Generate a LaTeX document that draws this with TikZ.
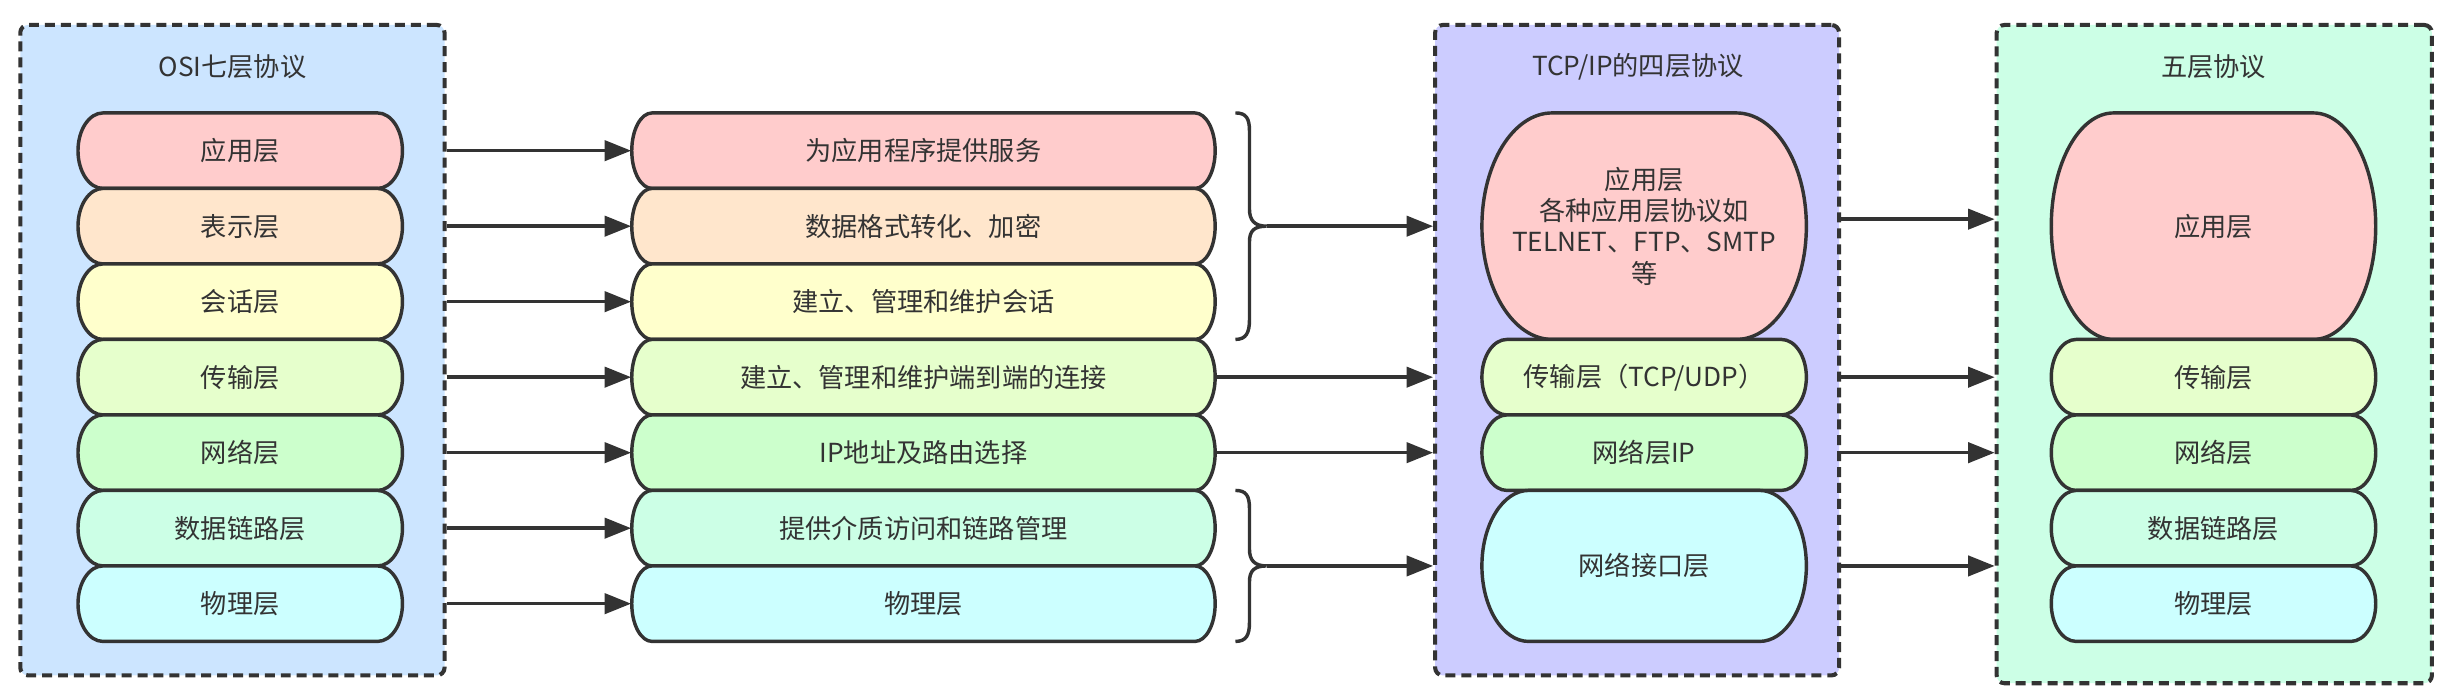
\documentclass[tikz,border=0pt]{standalone}
\usepackage{fontspec}
\setmainfont{Noto Sans CJK SC}
\usetikzlibrary{arrows.meta,calc}
\definecolor{ln}{HTML}{333333}
\definecolor{cApp}{HTML}{FFCCCC}
\definecolor{cPre}{HTML}{FFE6CC}
\definecolor{cSes}{HTML}{FFFFCC}
\definecolor{cTra}{HTML}{E6FFCC}
\definecolor{cNet}{HTML}{CCFFCC}
\definecolor{cDl}{HTML}{CCFFE6}
\definecolor{cPhy}{HTML}{CCFFFF}
\definecolor{cOsi}{HTML}{CCE5FF}
\definecolor{cTcp}{HTML}{CCCCFF}
\definecolor{cFive}{HTML}{CCFFE6}
\tikzset{
  boxline/.style={draw=ln, line width=1.1pt},
  lbl/.style={inner sep=0pt, text=ln, font=\fontsize{8.4pt}{10pt}\selectfont, align=center},
  cont/.style={draw=ln, line width=1.3pt, dash pattern=on 3.2pt off 1.9pt, rounded corners=2.5pt, inner sep=0pt},
  arr/.style={draw=ln, line width=1.1pt, -{Triangle[length=8.5pt,width=6.5pt]}},
  bracep/.style={draw=ln, line width=1.1pt},
  ttl/.style={text=ln, font=\fontsize{8.4pt}{10pt}\selectfont, inner sep=0pt}
}
\newcommand{\lyr}[9]{%
  \filldraw[boxline, fill=#8] (#2+#6,#3) -- (#4-#6,#3)
    arc[start angle=-90,end angle=0,x radius=#6,y radius=#7]
    -- (#4,#5-#7)
    arc[start angle=0,end angle=90,x radius=#6,y radius=#7]
    -- (#2+#6,#5)
    arc[start angle=90,end angle=180,x radius=#6,y radius=#7]
    -- (#2,#3+#7)
    arc[start angle=180,end angle=270,x radius=#6,y radius=#7] -- cycle;
  \node[lbl, minimum width={(#4-#2)*0.5pt}, minimum height={(#5-#3)*0.5pt}] (#1) at ({(#2+#4)/2},{(#3+#5)/2}) {#9};
}
\begin{document}
\begin{tikzpicture}[x=0.5pt,y=-0.5pt]
\useasboundingbox (0,0) rectangle (1568.7,443);
% containers
\node[cont, fill=cOsi, minimum width=136pt, minimum height=208.5pt] (osi) at (149,224.5) {};
\node[cont, fill=cTcp, minimum width=129.5pt, minimum height=208.5pt] (tcp) at (1049.5,224.5) {};
\node[cont, fill=cFive, minimum width=139.5pt, minimum height=211pt] (five) at (1419.5,227) {};
\node[ttl] (osit) at (149,43) {OSI七层协议};
\node[ttl] (tcpt) at (1050,43) {TCP/IP的四层协议};
\node[ttl] (fivet) at (1419,43) {五层协议};
% OSI column
\lyr{o1}{50}{72.4}{258}{120.8}{16}{24.2}{cApp}{应用层}
\lyr{o2}{50}{120.8}{258}{169.2}{16}{24.2}{cPre}{表示层}
\lyr{o3}{50}{169.2}{258}{217.6}{16}{24.2}{cSes}{会话层}
\lyr{o4}{50}{217.6}{258}{266}{16}{24.2}{cTra}{传输层}
\lyr{o5}{50}{266}{258}{314.4}{16}{24.2}{cNet}{网络层}
\lyr{o6}{50}{314.4}{258}{362.8}{16}{24.2}{cDl}{数据链路层}
\lyr{o7}{50}{362.8}{258}{411.2}{16}{24.2}{cPhy}{物理层}
% middle column
\lyr{m1}{405}{72.4}{779}{120.8}{13}{24.2}{cApp}{为应用程序提供服务}
\lyr{m2}{405}{120.8}{779}{169.2}{13}{24.2}{cPre}{数据格式转化、加密}
\lyr{m3}{405}{169.2}{779}{217.6}{13}{24.2}{cSes}{建立、管理和维护会话}
\lyr{m4}{405}{217.6}{779}{266}{13}{24.2}{cTra}{建立、管理和维护端到端的连接}
\lyr{m5}{405}{266}{779}{314.4}{13}{24.2}{cNet}{IP地址及路由选择}
\lyr{m6}{405}{314.4}{779}{362.8}{13}{24.2}{cDl}{提供介质访问和链路管理}
\lyr{m7}{405}{362.8}{779}{411.2}{13}{24.2}{cPhy}{物理层}
% TCP/IP column
\lyr{t1}{950}{72.4}{1158}{217.6}{45}{72.6}{cApp}{应用层\\各种应用层协议如\\TELNET、FTP、SMTP\\等}
\lyr{t2}{950}{217.6}{1158}{266}{16}{24.2}{cTra}{传输层（TCP/UDP）}
\lyr{t3}{950}{266}{1158}{314.4}{16}{24.2}{cNet}{网络层IP}
\lyr{t4}{950}{314.4}{1158}{411.2}{30}{48.4}{cPhy}{网络接口层}
% five-layer column
\lyr{f1}{1315}{72.4}{1523}{217.6}{40}{72.6}{cApp}{应用层}
\lyr{f2}{1315}{217.6}{1523}{266}{16}{24.2}{cTra}{传输层}
\lyr{f3}{1315}{266}{1523}{314.4}{16}{24.2}{cNet}{网络层}
\lyr{f4}{1315}{314.4}{1523}{362.8}{16}{24.2}{cDl}{数据链路层}
\lyr{f5}{1315}{362.8}{1523}{411.2}{16}{24.2}{cPhy}{物理层}
% braces
\draw[bracep] (792,72.4) .. controls (799,72.4) and (801,76) .. (801,84) -- (801,134)
  .. controls (801,141) and (804,145) .. (812,145) coordinate (bt)
  .. controls (804,145) and (801,148) .. (801,155) -- (801,205)
  .. controls (801,213) and (799,217.6) .. (792,217.6);
\draw[bracep] (792,314.4) .. controls (799,314.4) and (801,318) .. (801,326) -- (801,352)
  .. controls (801,359) and (804,362.8) .. (812,362.8) coordinate (bb)
  .. controls (804,362.8) and (801,366) .. (801,373) -- (801,399)
  .. controls (801,407) and (799,411.2) .. (792,411.2);
% arrows OSI -> middle
\foreach \i in {1,...,7} { \draw[arr] (osi.east |- o\i) -- (m\i.west); }
% middle -> TCP/IP
\draw[arr] (bt) -- (tcp.west |- bt);
\draw[arr] (m4.east) -- (tcp.west |- m4);
\draw[arr] (m5.east) -- (tcp.west |- m5);
\draw[arr] (bb) -- (tcp.west |- bb);
% TCP/IP -> five
\draw[arr] ($(tcp.east |- t1)+(0,-4.5)$) -- ($(five.west |- t1)+(0,-4.5)$);
\draw[arr] (tcp.east |- t2) -- (five.west |- t2);
\draw[arr] (tcp.east |- t3) -- (five.west |- t3);
\draw[arr] (tcp.east |- t4) -- (five.west |- t4);
\end{tikzpicture}
\end{document}
